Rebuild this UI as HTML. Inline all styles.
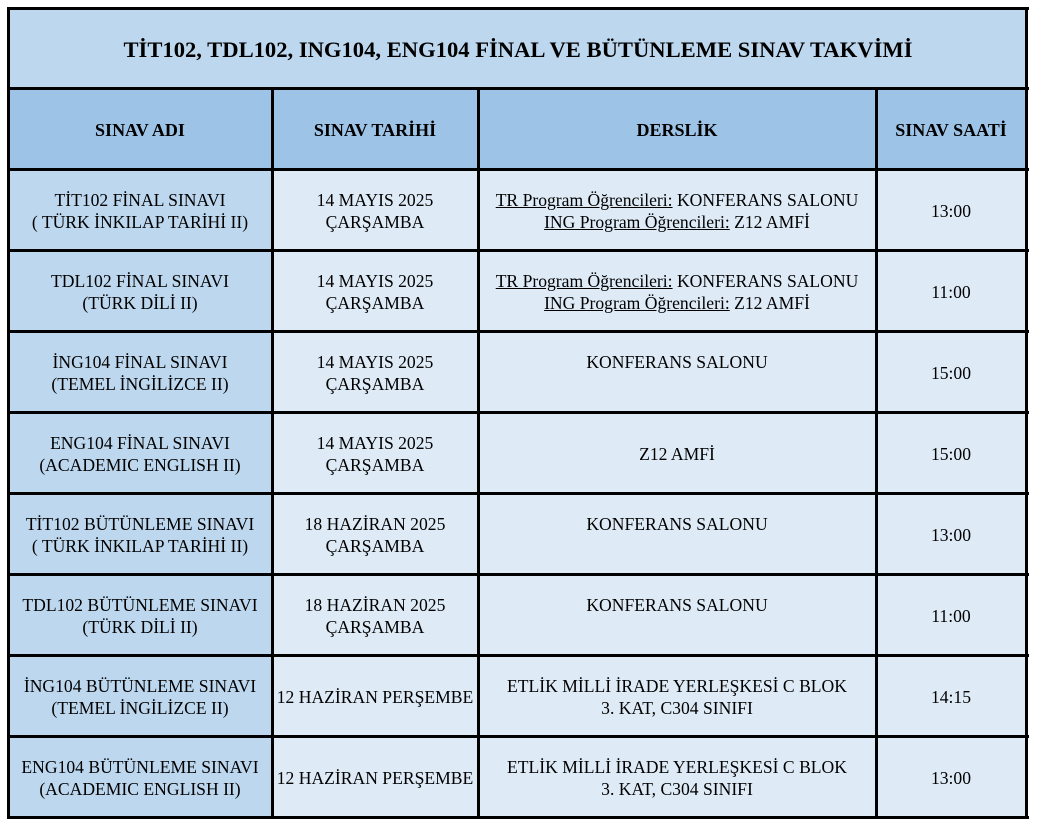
<!DOCTYPE html>
<html><head><meta charset="utf-8"><style>
body{margin:0;width:1038px;height:830px;background:#fff;position:relative;font-family:"Liberation Serif",serif;color:#000;overflow:hidden}
.c{position:absolute;display:flex;align-items:center;justify-content:center;text-align:center;font-size:17.6px;line-height:22px;box-sizing:border-box;padding-top:3px}
.l{position:absolute;background:#000}
u{text-decoration:underline}
</style></head><body>
<div class="c" style="left:8px;top:8px;width:1020px;height:81px;background:#bdd7ee;font-weight:bold;font-size:22.6px">TİT102, TDL102, ING104, ENG104 FİNAL VE BÜTÜNLEME SINAV TAKVİMİ</div>
<div id="g"></div>
<script>
var xs=[8,272,478,876,1026];
var ys=[8,88,169,250,331,412,493,574,655,736,817];
var hdr=["SINAV ADI","SINAV TARİHİ","DERSLİK","SINAV SAATİ"];
var tr='<u>TR Program Öğrencileri:</u> KONFERANS SALONU<br><u>ING Program Öğrencileri:</u> Z12 AMFİ';
var rows=[
["TİT102 FİNAL SINAVI<br>( TÜRK İNKILAP TARİHİ II)","14 MAYIS 2025<br>ÇARŞAMBA",tr,"13:00"],
["TDL102 FİNAL SINAVI<br>(TÜRK DİLİ II)","14 MAYIS 2025<br>ÇARŞAMBA",tr,"11:00"],
["İNG104 FİNAL SINAVI<br>(TEMEL İNGİLİZCE II)","14 MAYIS 2025<br>ÇARŞAMBA","KONFERANS SALONU<br>&nbsp;","15:00"],
["ENG104 FİNAL SINAVI<br>(ACADEMIC ENGLISH II)","14 MAYIS 2025<br>ÇARŞAMBA","Z12 AMFİ","15:00"],
["TİT102 BÜTÜNLEME SINAVI<br>( TÜRK İNKILAP TARİHİ II)","18 HAZİRAN 2025<br>ÇARŞAMBA","KONFERANS SALONU<br>&nbsp;","13:00"],
["TDL102 BÜTÜNLEME SINAVI<br>(TÜRK DİLİ II)","18 HAZİRAN 2025<br>ÇARŞAMBA","KONFERANS SALONU<br>&nbsp;","11:00"],
["İNG104 BÜTÜNLEME SINAVI<br>(TEMEL İNGİLİZCE II)","12 HAZİRAN PERŞEMBE","ETLİK MİLLİ İRADE YERLEŞKESİ C BLOK<br>3. KAT, C304 SINIFI","14:15"],
["ENG104 BÜTÜNLEME SINAVI<br>(ACADEMIC ENGLISH II)","12 HAZİRAN PERŞEMBE","ETLİK MİLLİ İRADE YERLEŞKESİ C BLOK<br>3. KAT, C304 SINIFI","13:00"]];
var h='';
for(var r=0;r<9;r++){for(var c=0;c<4;c++){
 var bg=r==0?'#9dc3e6':(c==0?'#bdd7ee':'#deebf7');
 var t=r==0?'<b style="font-size:18px">'+hdr[c]+'</b>':'<span>'+rows[r-1][c]+'</span>';
 h+='<div class="c" style="left:'+xs[c]+'px;top:'+ys[r+1]+'px;width:'+(xs[c+1]-xs[c])+'px;height:'+(ys[r+2]-ys[r+1])+'px;background:'+bg+'">'+t+'</div>';
}}
for(var i=0;i<ys.length;i++)h+='<div class="l" style="left:8px;top:'+(ys[i]-1)+'px;width:1021px;height:3px"></div>';
h+='<div class="l" style="left:7px;top:7px;width:3px;height:812px"></div>';
h+='<div class="l" style="left:1025px;top:7px;width:3px;height:812px"></div>';
for(var j=1;j<4;j++)h+='<div class="l" style="left:'+(xs[j]-1)+'px;top:88px;width:3px;height:731px"></div>';
document.getElementById('g').innerHTML=h;
</script>
</body></html>
